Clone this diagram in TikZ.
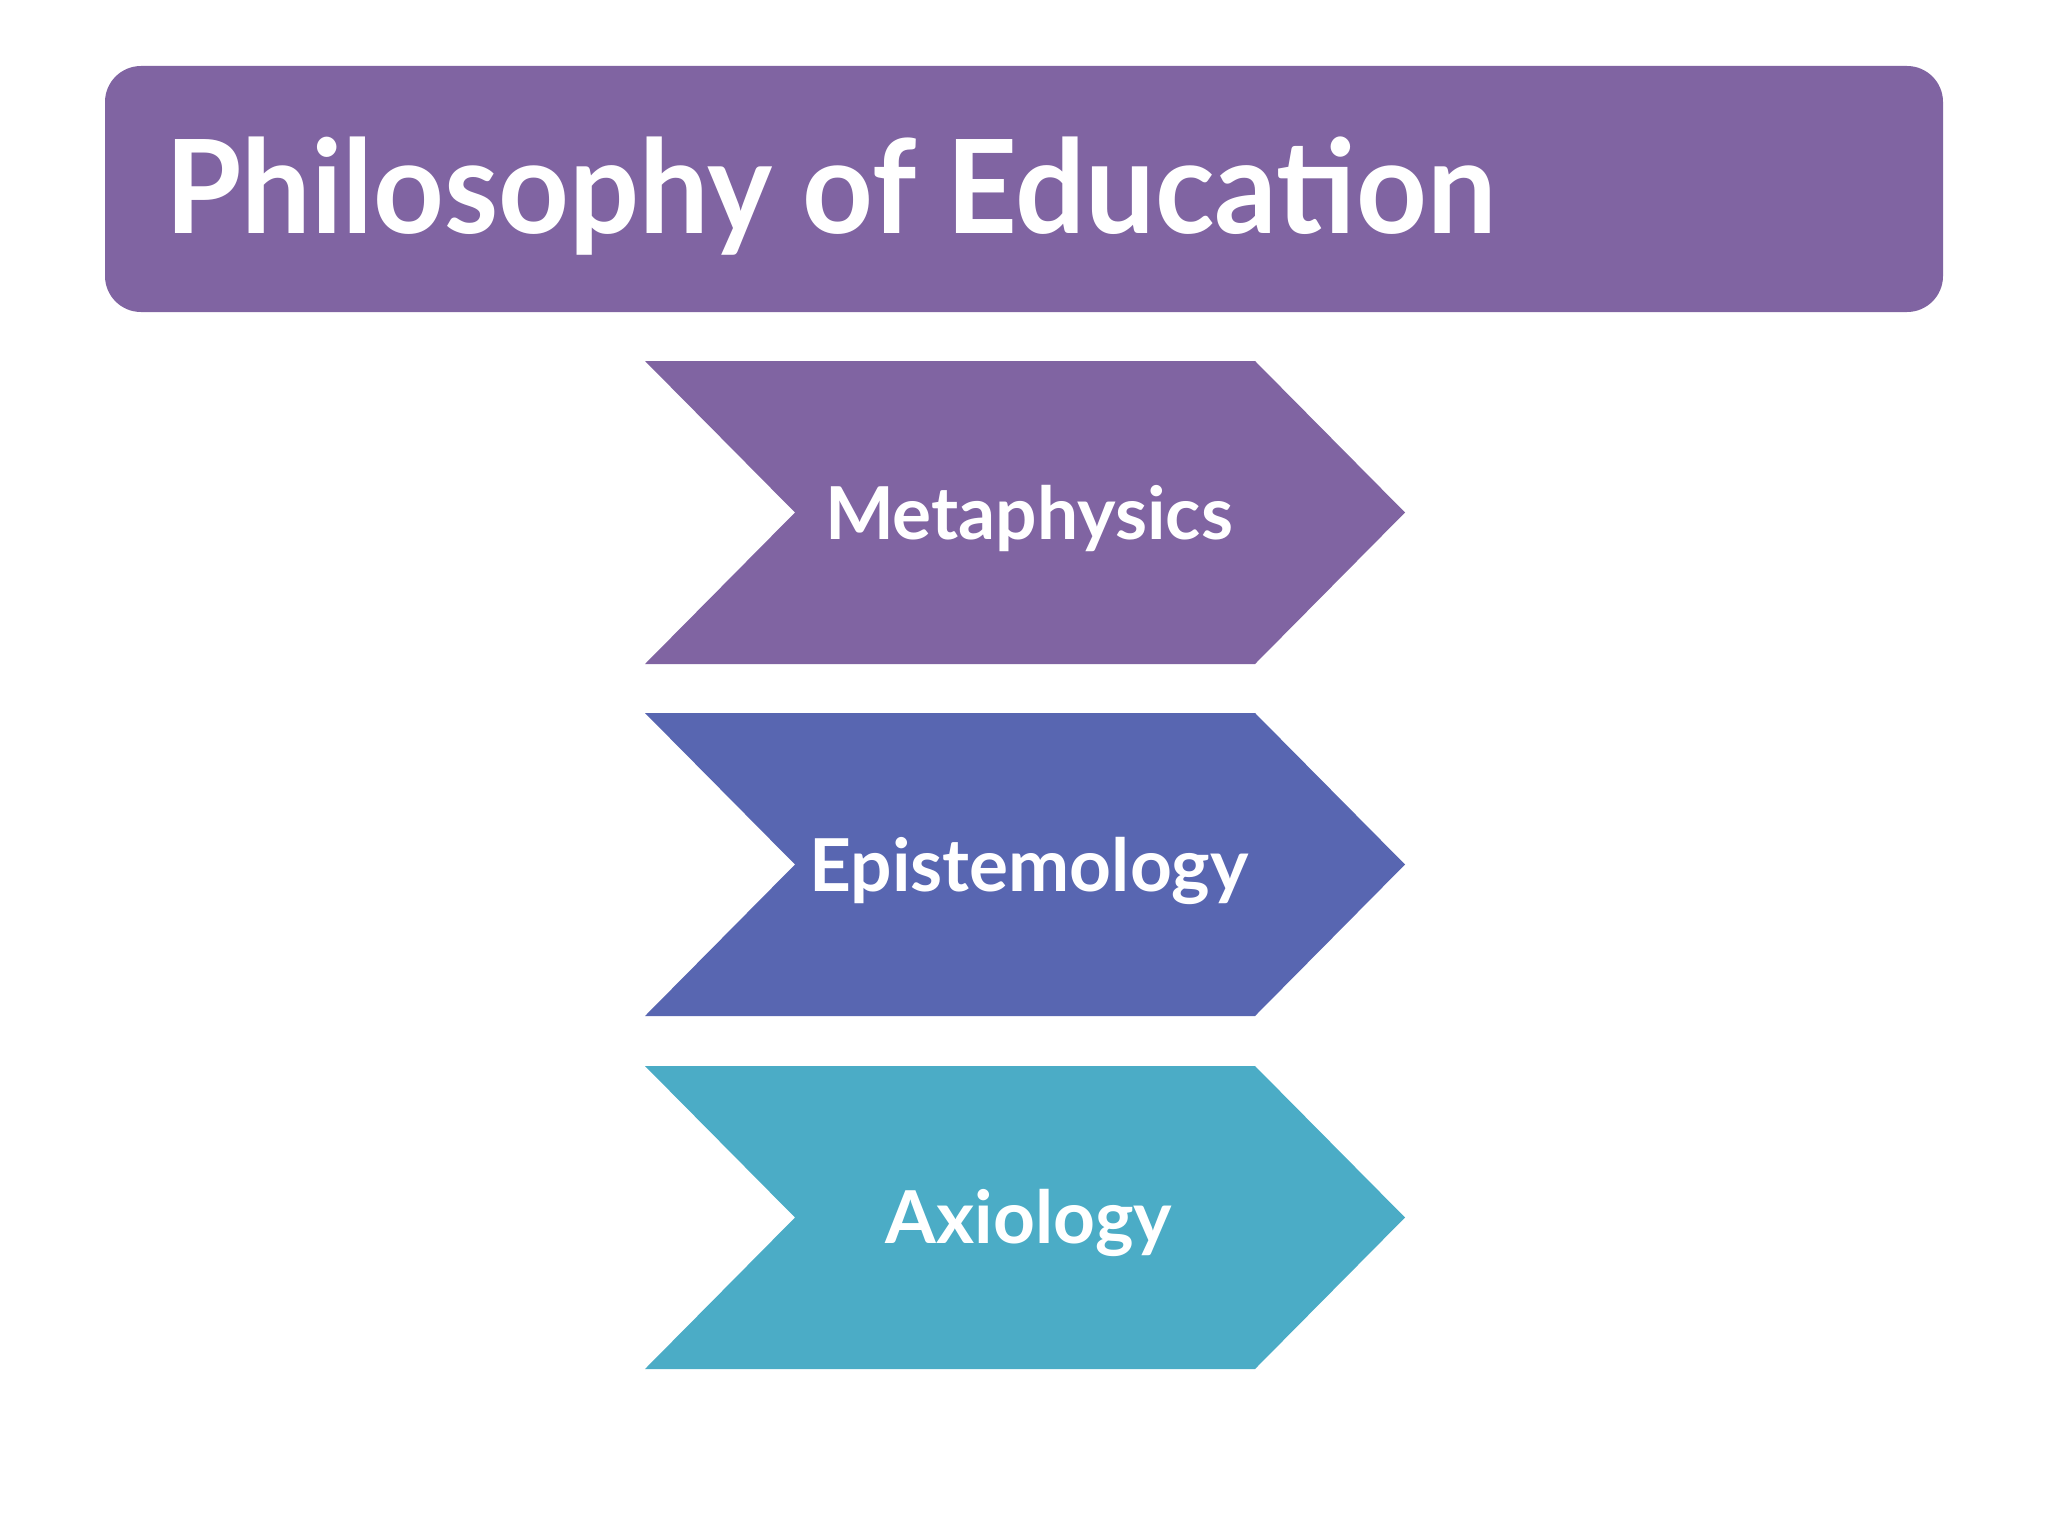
\documentclass[tikz,border=0pt]{standalone}
\usepackage{fontspec}
\setmainfont{Lato}
\newfontfamily\titlefont[FakeStretch=0.95]{Lato}
\definecolor{cpurple}{HTML}{8064A2}
\definecolor{cblue}{HTML}{5866B1}
\definecolor{cteal}{HTML}{4BACC6}
\begin{document}
\begin{tikzpicture}[x=1pt,y=-1pt,
  titlebox/.style={fill=cpurple, rounded corners=36pt},
  lbl/.style={text=white, font=\bfseries\fontsize{73}{80}\selectfont, anchor=base, inner sep=0pt},
  ttl/.style={text=white, font=\titlefont\bfseries\fontsize{130}{140}\selectfont, anchor=base west, inner sep=0pt}]
\useasboundingbox (0,0) rectangle (2048,1536);
\fill[white] (0,0) rectangle (2048,1536);
% title
\fill[titlebox] (105,66) rectangle (1943,312);
\node[ttl] (title) at (165,233) {Philosophy of Education};
% chevrons
\newcommand{\chevron}[3]{%
  \fill[#3] (645,#1) -- (1255,#1) -- (1405,#1+#2/2) -- (1255,#1+#2) -- (645,#1+#2) -- (795,#1+#2/2) -- cycle;}
\chevron{361}{303}{cpurple}
\chevron{713}{303}{cblue}
\chevron{1066}{303}{cteal}
\node[lbl] (meta) at (1029,539) {Metaphysics};
\node[lbl] (epis) at (1029,891) {Epistemology};
\node[lbl] (axio) at (1029,1243) {Axiology};
\end{tikzpicture}
\end{document}
